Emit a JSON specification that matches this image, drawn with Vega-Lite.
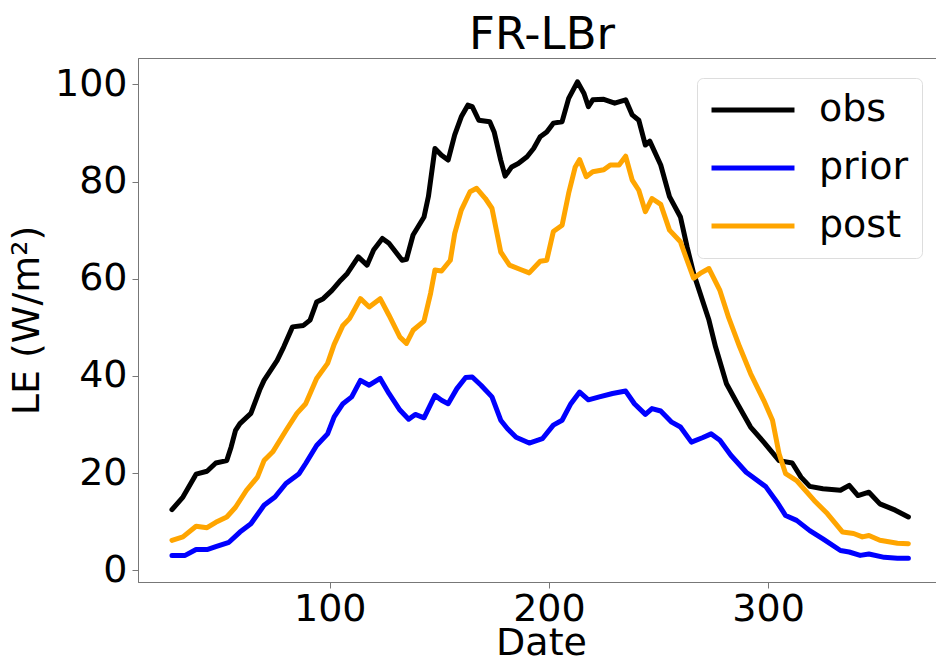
{
  "$schema": "https://vega.github.io/schema/vega-lite/v6.json",
  "autosize": "none",
  "padding": {"left": 138, "top": 58, "right": 0, "bottom": 82},
  "width": 798,
  "height": 524,
  "background": "white",
  "config": {
    "view": {"stroke": "#777", "strokeWidth": 1},
    "font": "DejaVu Sans"
  },
  "title": {
    "text": "FR-LBr",
    "font": "DejaVu Sans",
    "fontSize": 45,
    "fontWeight": "normal",
    "color": "black",
    "anchor": "middle",
    "frame": "group",
    "offset": 0,
    "dx": 5
  },
  "data": {
    "values": [
      {"date": 28, "LE": 12.5, "series": "obs"},
      {"date": 33, "LE": 15.1, "series": "obs"},
      {"date": 39, "LE": 19.8, "series": "obs"},
      {"date": 44, "LE": 20.4, "series": "obs"},
      {"date": 48, "LE": 22.1, "series": "obs"},
      {"date": 53, "LE": 22.6, "series": "obs"},
      {"date": 55, "LE": 25.4, "series": "obs"},
      {"date": 57, "LE": 28.8, "series": "obs"},
      {"date": 59, "LE": 30.2, "series": "obs"},
      {"date": 64, "LE": 32.3, "series": "obs"},
      {"date": 68, "LE": 37.1, "series": "obs"},
      {"date": 70, "LE": 39.1, "series": "obs"},
      {"date": 76, "LE": 43.2, "series": "obs"},
      {"date": 79, "LE": 46.0, "series": "obs"},
      {"date": 83, "LE": 50.1, "series": "obs"},
      {"date": 88, "LE": 50.4, "series": "obs"},
      {"date": 91, "LE": 51.5, "series": "obs"},
      {"date": 94, "LE": 55.2, "series": "obs"},
      {"date": 97, "LE": 55.9, "series": "obs"},
      {"date": 101, "LE": 57.6, "series": "obs"},
      {"date": 105, "LE": 59.7, "series": "obs"},
      {"date": 108, "LE": 61.1, "series": "obs"},
      {"date": 113, "LE": 64.5, "series": "obs"},
      {"date": 117, "LE": 62.8, "series": "obs"},
      {"date": 120, "LE": 65.9, "series": "obs"},
      {"date": 124, "LE": 68.3, "series": "obs"},
      {"date": 127, "LE": 67.3, "series": "obs"},
      {"date": 133, "LE": 63.8, "series": "obs"},
      {"date": 135, "LE": 64.0, "series": "obs"},
      {"date": 138, "LE": 69.0, "series": "obs"},
      {"date": 143, "LE": 72.7, "series": "obs"},
      {"date": 145, "LE": 76.9, "series": "obs"},
      {"date": 148, "LE": 86.8, "series": "obs"},
      {"date": 151, "LE": 85.4, "series": "obs"},
      {"date": 154, "LE": 84.4, "series": "obs"},
      {"date": 157, "LE": 89.6, "series": "obs"},
      {"date": 160, "LE": 93.3, "series": "obs"},
      {"date": 163, "LE": 95.7, "series": "obs"},
      {"date": 165, "LE": 95.4, "series": "obs"},
      {"date": 168, "LE": 92.6, "series": "obs"},
      {"date": 173, "LE": 92.3, "series": "obs"},
      {"date": 175, "LE": 90.2, "series": "obs"},
      {"date": 178, "LE": 84.4, "series": "obs"},
      {"date": 180, "LE": 81.1, "series": "obs"},
      {"date": 183, "LE": 83.0, "series": "obs"},
      {"date": 186, "LE": 83.7, "series": "obs"},
      {"date": 190, "LE": 85.1, "series": "obs"},
      {"date": 193, "LE": 86.8, "series": "obs"},
      {"date": 196, "LE": 89.2, "series": "obs"},
      {"date": 199, "LE": 90.2, "series": "obs"},
      {"date": 202, "LE": 92.0, "series": "obs"},
      {"date": 206, "LE": 92.3, "series": "obs"},
      {"date": 209, "LE": 97.1, "series": "obs"},
      {"date": 213, "LE": 100.5, "series": "obs"},
      {"date": 216, "LE": 98.1, "series": "obs"},
      {"date": 218, "LE": 95.4, "series": "obs"},
      {"date": 220, "LE": 96.8, "series": "obs"},
      {"date": 225, "LE": 96.9, "series": "obs"},
      {"date": 230, "LE": 96.1, "series": "obs"},
      {"date": 235, "LE": 96.8, "series": "obs"},
      {"date": 238, "LE": 93.7, "series": "obs"},
      {"date": 241, "LE": 92.6, "series": "obs"},
      {"date": 244, "LE": 87.5, "series": "obs"},
      {"date": 246, "LE": 88.3, "series": "obs"},
      {"date": 251, "LE": 83.4, "series": "obs"},
      {"date": 255, "LE": 76.9, "series": "obs"},
      {"date": 260, "LE": 72.7, "series": "obs"},
      {"date": 263, "LE": 66.6, "series": "obs"},
      {"date": 266, "LE": 61.1, "series": "obs"},
      {"date": 270, "LE": 55.6, "series": "obs"},
      {"date": 273, "LE": 51.5, "series": "obs"},
      {"date": 276, "LE": 46.0, "series": "obs"},
      {"date": 281, "LE": 38.4, "series": "obs"},
      {"date": 286, "LE": 34.3, "series": "obs"},
      {"date": 292, "LE": 29.5, "series": "obs"},
      {"date": 298, "LE": 26.4, "series": "obs"},
      {"date": 305, "LE": 22.6, "series": "obs"},
      {"date": 311, "LE": 22.1, "series": "obs"},
      {"date": 315, "LE": 19.2, "series": "obs"},
      {"date": 319, "LE": 17.3, "series": "obs"},
      {"date": 325, "LE": 16.8, "series": "obs"},
      {"date": 333, "LE": 16.5, "series": "obs"},
      {"date": 337, "LE": 17.5, "series": "obs"},
      {"date": 341, "LE": 15.4, "series": "obs"},
      {"date": 346, "LE": 16.1, "series": "obs"},
      {"date": 351, "LE": 13.7, "series": "obs"},
      {"date": 358, "LE": 12.4, "series": "obs"},
      {"date": 364, "LE": 11.0, "series": "obs"},

      {"date": 28, "LE": 3.1, "series": "prior"},
      {"date": 34, "LE": 3.1, "series": "prior"},
      {"date": 39, "LE": 4.3, "series": "prior"},
      {"date": 44, "LE": 4.3, "series": "prior"},
      {"date": 48, "LE": 4.9, "series": "prior"},
      {"date": 54, "LE": 5.8, "series": "prior"},
      {"date": 59, "LE": 7.9, "series": "prior"},
      {"date": 64, "LE": 9.6, "series": "prior"},
      {"date": 70, "LE": 13.4, "series": "prior"},
      {"date": 75, "LE": 15.1, "series": "prior"},
      {"date": 80, "LE": 17.9, "series": "prior"},
      {"date": 86, "LE": 19.9, "series": "prior"},
      {"date": 89, "LE": 22.0, "series": "prior"},
      {"date": 94, "LE": 25.7, "series": "prior"},
      {"date": 99, "LE": 28.1, "series": "prior"},
      {"date": 102, "LE": 31.6, "series": "prior"},
      {"date": 106, "LE": 34.3, "series": "prior"},
      {"date": 110, "LE": 35.7, "series": "prior"},
      {"date": 114, "LE": 39.1, "series": "prior"},
      {"date": 118, "LE": 38.1, "series": "prior"},
      {"date": 123, "LE": 39.5, "series": "prior"},
      {"date": 127, "LE": 36.4, "series": "prior"},
      {"date": 132, "LE": 33.0, "series": "prior"},
      {"date": 136, "LE": 31.1, "series": "prior"},
      {"date": 139, "LE": 32.1, "series": "prior"},
      {"date": 143, "LE": 31.4, "series": "prior"},
      {"date": 148, "LE": 36.0, "series": "prior"},
      {"date": 151, "LE": 35.0, "series": "prior"},
      {"date": 154, "LE": 34.3, "series": "prior"},
      {"date": 158, "LE": 37.4, "series": "prior"},
      {"date": 162, "LE": 39.7, "series": "prior"},
      {"date": 165, "LE": 39.8, "series": "prior"},
      {"date": 169, "LE": 38.1, "series": "prior"},
      {"date": 174, "LE": 35.7, "series": "prior"},
      {"date": 178, "LE": 30.9, "series": "prior"},
      {"date": 181, "LE": 29.2, "series": "prior"},
      {"date": 185, "LE": 27.4, "series": "prior"},
      {"date": 191, "LE": 26.2, "series": "prior"},
      {"date": 197, "LE": 27.1, "series": "prior"},
      {"date": 202, "LE": 29.9, "series": "prior"},
      {"date": 206, "LE": 30.9, "series": "prior"},
      {"date": 210, "LE": 34.3, "series": "prior"},
      {"date": 214, "LE": 36.7, "series": "prior"},
      {"date": 218, "LE": 35.1, "series": "prior"},
      {"date": 223, "LE": 35.7, "series": "prior"},
      {"date": 229, "LE": 36.4, "series": "prior"},
      {"date": 235, "LE": 36.9, "series": "prior"},
      {"date": 239, "LE": 34.3, "series": "prior"},
      {"date": 244, "LE": 32.1, "series": "prior"},
      {"date": 247, "LE": 33.3, "series": "prior"},
      {"date": 251, "LE": 32.8, "series": "prior"},
      {"date": 256, "LE": 30.5, "series": "prior"},
      {"date": 260, "LE": 29.5, "series": "prior"},
      {"date": 265, "LE": 26.4, "series": "prior"},
      {"date": 270, "LE": 27.3, "series": "prior"},
      {"date": 274, "LE": 28.1, "series": "prior"},
      {"date": 278, "LE": 26.8, "series": "prior"},
      {"date": 283, "LE": 23.7, "series": "prior"},
      {"date": 290, "LE": 20.2, "series": "prior"},
      {"date": 299, "LE": 17.2, "series": "prior"},
      {"date": 304, "LE": 14.1, "series": "prior"},
      {"date": 308, "LE": 11.3, "series": "prior"},
      {"date": 313, "LE": 10.3, "series": "prior"},
      {"date": 319, "LE": 8.2, "series": "prior"},
      {"date": 325, "LE": 6.5, "series": "prior"},
      {"date": 333, "LE": 4.1, "series": "prior"},
      {"date": 337, "LE": 3.8, "series": "prior"},
      {"date": 342, "LE": 3.1, "series": "prior"},
      {"date": 346, "LE": 3.4, "series": "prior"},
      {"date": 353, "LE": 2.7, "series": "prior"},
      {"date": 359, "LE": 2.5, "series": "prior"},
      {"date": 364, "LE": 2.5, "series": "prior"},

      {"date": 28, "LE": 6.2, "series": "post"},
      {"date": 33, "LE": 6.9, "series": "post"},
      {"date": 39, "LE": 9.1, "series": "post"},
      {"date": 44, "LE": 8.8, "series": "post"},
      {"date": 48, "LE": 9.9, "series": "post"},
      {"date": 53, "LE": 11.0, "series": "post"},
      {"date": 57, "LE": 13.0, "series": "post"},
      {"date": 62, "LE": 16.5, "series": "post"},
      {"date": 67, "LE": 19.2, "series": "post"},
      {"date": 70, "LE": 22.6, "series": "post"},
      {"date": 74, "LE": 24.4, "series": "post"},
      {"date": 80, "LE": 28.8, "series": "post"},
      {"date": 85, "LE": 32.3, "series": "post"},
      {"date": 89, "LE": 34.3, "series": "post"},
      {"date": 94, "LE": 39.5, "series": "post"},
      {"date": 99, "LE": 42.6, "series": "post"},
      {"date": 102, "LE": 46.5, "series": "post"},
      {"date": 106, "LE": 50.4, "series": "post"},
      {"date": 109, "LE": 51.8, "series": "post"},
      {"date": 114, "LE": 55.9, "series": "post"},
      {"date": 118, "LE": 54.2, "series": "post"},
      {"date": 123, "LE": 55.9, "series": "post"},
      {"date": 127, "LE": 52.5, "series": "post"},
      {"date": 132, "LE": 48.0, "series": "post"},
      {"date": 135, "LE": 46.7, "series": "post"},
      {"date": 138, "LE": 49.4, "series": "post"},
      {"date": 143, "LE": 51.3, "series": "post"},
      {"date": 146, "LE": 57.0, "series": "post"},
      {"date": 148, "LE": 61.8, "series": "post"},
      {"date": 151, "LE": 61.6, "series": "post"},
      {"date": 155, "LE": 63.8, "series": "post"},
      {"date": 157, "LE": 69.3, "series": "post"},
      {"date": 160, "LE": 74.1, "series": "post"},
      {"date": 164, "LE": 77.9, "series": "post"},
      {"date": 167, "LE": 78.6, "series": "post"},
      {"date": 171, "LE": 76.5, "series": "post"},
      {"date": 174, "LE": 74.5, "series": "post"},
      {"date": 178, "LE": 65.5, "series": "post"},
      {"date": 182, "LE": 62.8, "series": "post"},
      {"date": 187, "LE": 61.9, "series": "post"},
      {"date": 191, "LE": 61.2, "series": "post"},
      {"date": 196, "LE": 63.6, "series": "post"},
      {"date": 199, "LE": 63.8, "series": "post"},
      {"date": 202, "LE": 69.7, "series": "post"},
      {"date": 206, "LE": 71.0, "series": "post"},
      {"date": 209, "LE": 77.6, "series": "post"},
      {"date": 212, "LE": 83.0, "series": "post"},
      {"date": 214, "LE": 84.5, "series": "post"},
      {"date": 217, "LE": 81.0, "series": "post"},
      {"date": 220, "LE": 82.0, "series": "post"},
      {"date": 225, "LE": 82.4, "series": "post"},
      {"date": 228, "LE": 83.4, "series": "post"},
      {"date": 232, "LE": 83.4, "series": "post"},
      {"date": 235, "LE": 85.2, "series": "post"},
      {"date": 238, "LE": 80.3, "series": "post"},
      {"date": 241, "LE": 78.2, "series": "post"},
      {"date": 244, "LE": 73.8, "series": "post"},
      {"date": 247, "LE": 76.5, "series": "post"},
      {"date": 251, "LE": 75.3, "series": "post"},
      {"date": 255, "LE": 70.0, "series": "post"},
      {"date": 260, "LE": 67.6, "series": "post"},
      {"date": 263, "LE": 63.8, "series": "post"},
      {"date": 266, "LE": 60.1, "series": "post"},
      {"date": 269, "LE": 61.1, "series": "post"},
      {"date": 273, "LE": 62.1, "series": "post"},
      {"date": 278, "LE": 57.6, "series": "post"},
      {"date": 282, "LE": 52.0, "series": "post"},
      {"date": 287, "LE": 46.0, "series": "post"},
      {"date": 292, "LE": 40.5, "series": "post"},
      {"date": 298, "LE": 35.0, "series": "post"},
      {"date": 302, "LE": 30.9, "series": "post"},
      {"date": 305, "LE": 24.0, "series": "post"},
      {"date": 308, "LE": 19.9, "series": "post"},
      {"date": 313, "LE": 18.5, "series": "post"},
      {"date": 321, "LE": 14.4, "series": "post"},
      {"date": 327, "LE": 11.7, "series": "post"},
      {"date": 334, "LE": 7.9, "series": "post"},
      {"date": 339, "LE": 7.6, "series": "post"},
      {"date": 343, "LE": 6.9, "series": "post"},
      {"date": 346, "LE": 7.2, "series": "post"},
      {"date": 351, "LE": 6.2, "series": "post"},
      {"date": 359, "LE": 5.6, "series": "post"},
      {"date": 364, "LE": 5.5, "series": "post"}
    ]
  },
  "mark": {"type": "line", "strokeWidth": 5, "strokeJoin": "round", "strokeCap": "round"},
  "encoding": {
    "x": {
      "field": "date",
      "type": "quantitative",
      "scale": {"domain": [12.5, 376.6], "nice": false, "zero": false},
      "axis": {
        "title": "Date",
        "values": [100, 200, 300],
        "grid": false,
        "domainColor": "#777",
        "tickColor": "#777",
        "tickSize": 6,
        "labelFont": "DejaVu Sans",
        "labelFontSize": 38,
        "labelColor": "black",
        "labelPadding": 2,
        "titleFont": "DejaVu Sans",
        "titleFontSize": 38,
        "titleFontWeight": "normal",
        "titleColor": "black",
        "titlePadding": -4,
        "titleX": 403
      }
    },
    "y": {
      "field": "LE",
      "type": "quantitative",
      "scale": {"domain": [-2.37, 105.4], "nice": false, "zero": false},
      "axis": {
        "title": "LE (W/m²)",
        "values": [0, 20, 40, 60, 80, 100],
        "grid": false,
        "domainColor": "#777",
        "tickColor": "#777",
        "tickSize": 6,
        "labelFont": "DejaVu Sans",
        "labelFontSize": 38,
        "labelColor": "black",
        "labelPadding": 5,
        "titleFont": "DejaVu Sans",
        "titleFontSize": 38,
        "titleFontWeight": "normal",
        "titleColor": "black",
        "titlePadding": 8
      }
    },
    "color": {
      "field": "series",
      "type": "nominal",
      "scale": {"domain": ["obs", "prior", "post"], "range": ["#000000", "#0000ff", "#ffa500"]},
      "legend": {
        "title": null,
        "orient": "none",
        "legendX": 559,
        "legendY": 20,
        "symbolType": "M-3,0H3",
        "symbolSize": 765,
        "symbolStrokeWidth": 5,
        "symbolOffset": 24,
        "labelFont": "DejaVu Sans",
        "labelFontSize": 38,
        "labelColor": "black",
        "labelOffset": 47,
        "padding": 13,
        "rowPadding": 20,
        "strokeColor": "#dddddd",
        "fillColor": "rgba(255,255,255,0.8)",
        "cornerRadius": 6
      }
    }
  }
}
